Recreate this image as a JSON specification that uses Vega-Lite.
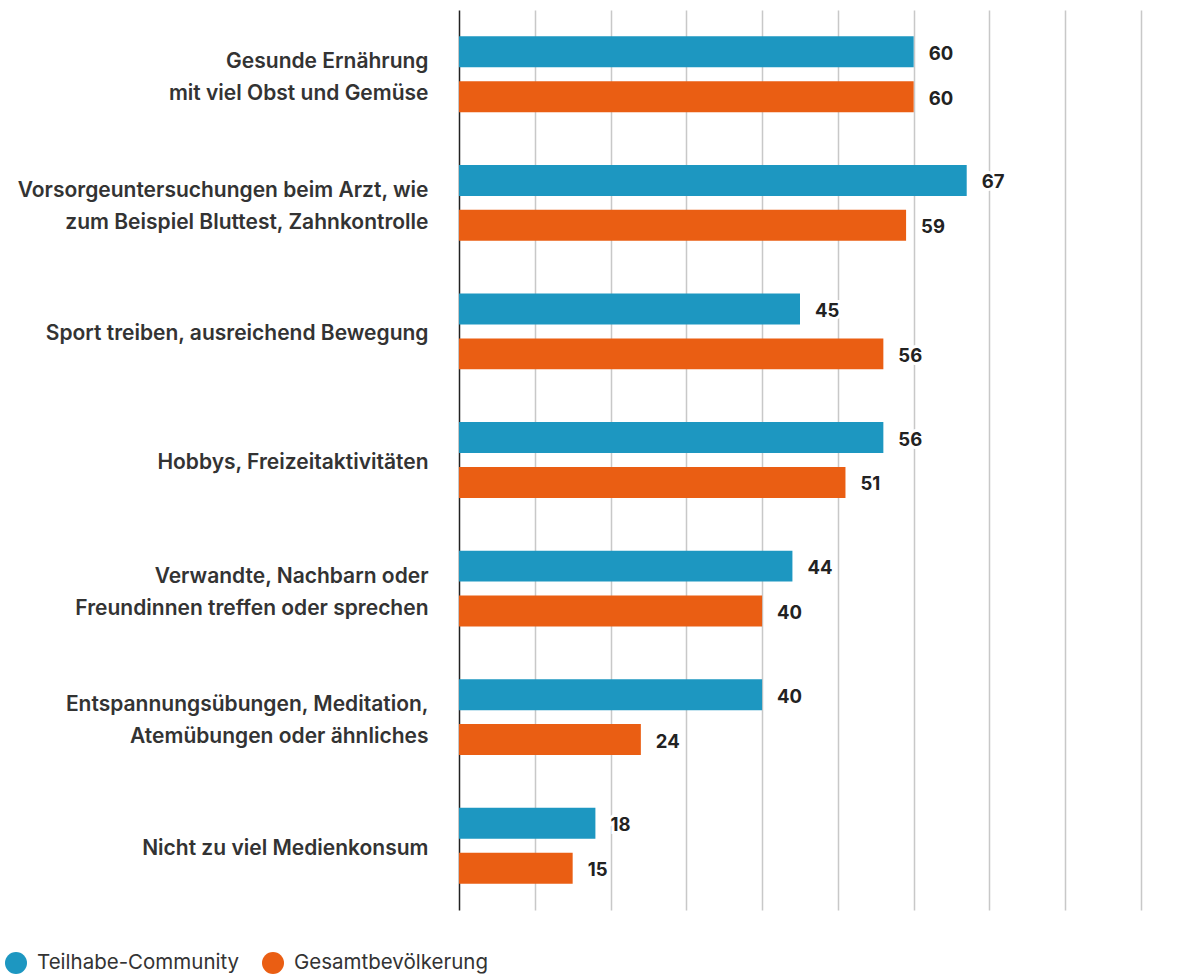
{
  "$schema": "https://vega.github.io/schema/vega-lite/v6.json",
  "width": 682,
  "height": 900,
  "autosize": {"type": "none"},
  "padding": {"left": 459, "top": 10, "right": 63, "bottom": 64},
  "config": {"view": {"stroke": null}, "font": "Inter"},
  "data": {
    "values": [
      {"cat": "Gesunde Ernährung|mit viel Obst und Gemüse", "grp": "Teilhabe-Community", "v": 60},
      {"cat": "Gesunde Ernährung|mit viel Obst und Gemüse", "grp": "Gesamtbevölkerung", "v": 60},
      {"cat": "Vorsorgeuntersuchungen beim Arzt, wie|zum Beispiel Bluttest, Zahnkontrolle", "grp": "Teilhabe-Community", "v": 67},
      {"cat": "Vorsorgeuntersuchungen beim Arzt, wie|zum Beispiel Bluttest, Zahnkontrolle", "grp": "Gesamtbevölkerung", "v": 59},
      {"cat": "Sport treiben, ausreichend Bewegung", "grp": "Teilhabe-Community", "v": 45},
      {"cat": "Sport treiben, ausreichend Bewegung", "grp": "Gesamtbevölkerung", "v": 56},
      {"cat": "Hobbys, Freizeitaktivitäten", "grp": "Teilhabe-Community", "v": 56},
      {"cat": "Hobbys, Freizeitaktivitäten", "grp": "Gesamtbevölkerung", "v": 51},
      {"cat": "Verwandte, Nachbarn oder|Freundinnen treffen oder sprechen", "grp": "Teilhabe-Community", "v": 44},
      {"cat": "Verwandte, Nachbarn oder|Freundinnen treffen oder sprechen", "grp": "Gesamtbevölkerung", "v": 40},
      {"cat": "Entspannungsübungen, Meditation,|Atemübungen oder ähnliches", "grp": "Teilhabe-Community", "v": 40},
      {"cat": "Entspannungsübungen, Meditation,|Atemübungen oder ähnliches", "grp": "Gesamtbevölkerung", "v": 24},
      {"cat": "Nicht zu viel Medienkonsum", "grp": "Teilhabe-Community", "v": 18},
      {"cat": "Nicht zu viel Medienkonsum", "grp": "Gesamtbevölkerung", "v": 15}
    ]
  },
  "encoding": {
    "y": {
      "field": "cat",
      "type": "nominal",
      "sort": null,
      "scale": {"paddingInner": 0.41, "paddingOuter": 0.205},
      "axis": {
        "title": null,
        "ticks": false,
        "domainColor": "#222222",
        "domainWidth": 1.5,
        "labelPadding": 31,
        "labelFontSize": 21,
        "labelFontWeight": 600,
        "labelColor": "#333333",
        "labelLineHeight": 32,
        "labelLimit": 0,
        "labelOffset": {"condition": {"test": "indexof(datum.label, '|') >= 0", "value": -12}, "value": 3},
        "labelExpr": "split(datum.label, '|')"
      }
    },
    "yOffset": {
      "field": "grp",
      "type": "nominal",
      "sort": ["Teilhabe-Community", "Gesamtbevölkerung"],
      "scale": {"paddingInner": 0.31, "paddingOuter": 0}
    },
    "x": {
      "field": "v",
      "type": "quantitative",
      "scale": {"domain": [0, 90], "nice": false},
      "axis": {
        "title": null,
        "grid": true,
        "gridColor": "#c8c8c8",
        "gridWidth": 1.5,
        "domain": false,
        "ticks": false,
        "labels": false,
        "values": [10, 20, 30, 40, 50, 60, 70, 80, 90]
      }
    }
  },
  "layer": [
    {
      "mark": {"type": "bar"},
      "encoding": {
        "color": {
          "field": "grp",
          "type": "nominal",
          "scale": {"domain": ["Teilhabe-Community", "Gesamtbevölkerung"], "range": ["#1d97c1", "#ea5e13"]},
          "legend": {
            "title": null,
            "orient": "none",
            "direction": "horizontal",
            "legendX": -454,
            "legendY": 942,
            "symbolType": "circle",
            "symbolSize": 484,
            "symbolStrokeWidth": 0,
            "labelFontSize": 20.5,
            "labelColor": "#333333",
            "labelFont": "Inter",
            "labelOffset": 10,
            "labelLimit": 0,
            "columnPadding": 22,
            "padding": 0
          }
        }
      }
    },
    {
      "mark": {"type": "text", "align": "left", "baseline": "middle", "dx": 15, "dy": 2, "fontSize": 18.5, "fontWeight": "bold", "stroke": "white", "strokeWidth": 6, "fill": "white"},
      "encoding": {"text": {"field": "v", "type": "quantitative"}}
    },
    {
      "mark": {"type": "text", "align": "left", "baseline": "middle", "dx": 15, "dy": 2, "fontSize": 18.5, "fontWeight": "bold", "color": "#222222"},
      "encoding": {"text": {"field": "v", "type": "quantitative"}}
    }
  ]
}
